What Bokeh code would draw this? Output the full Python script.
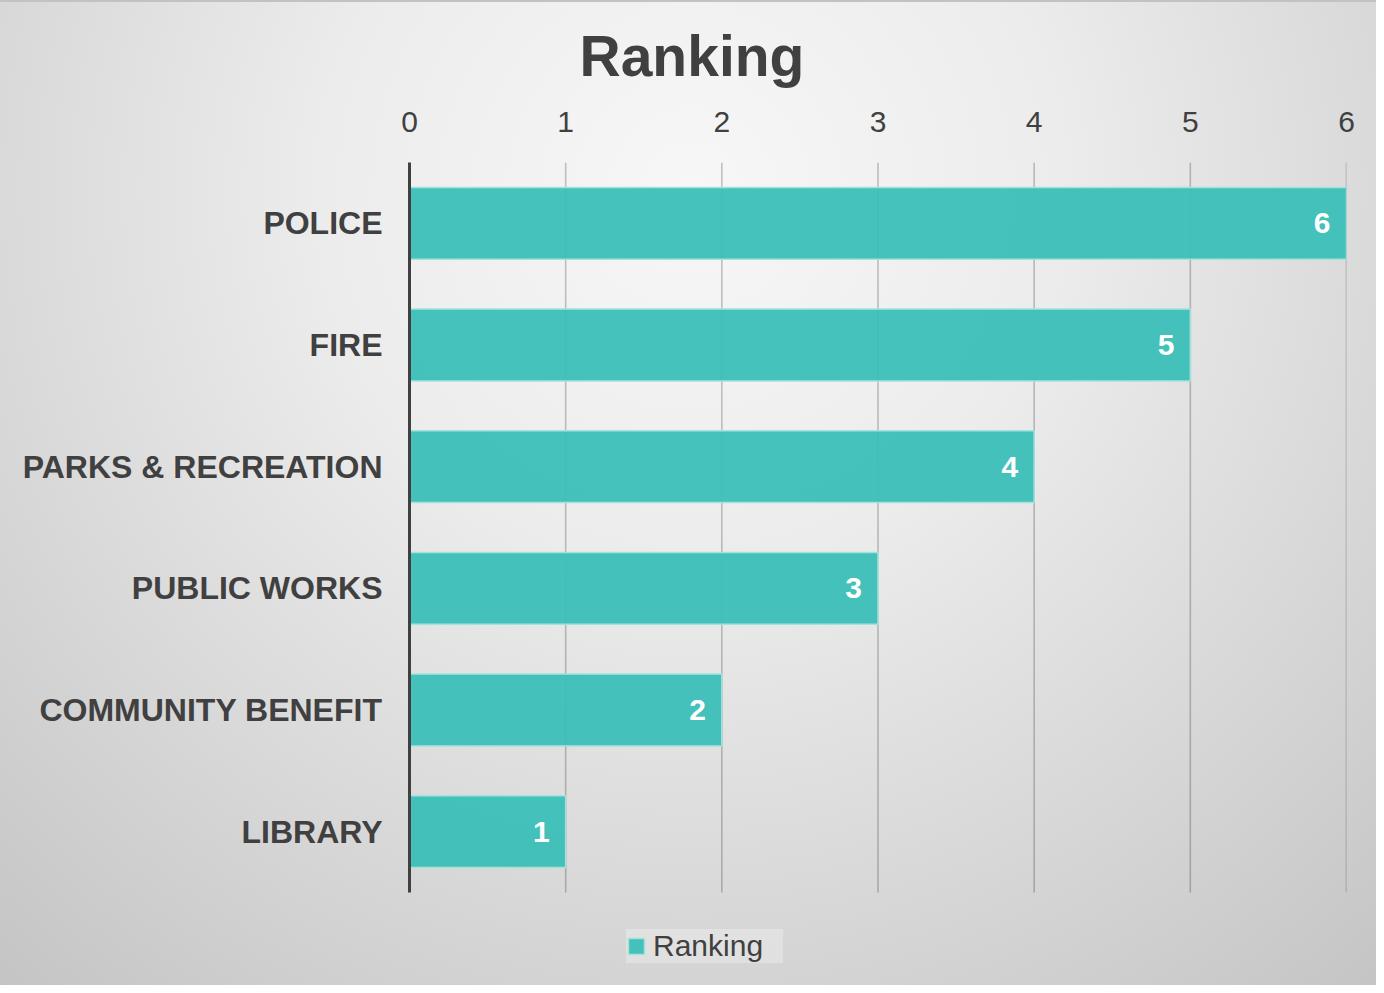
from bokeh.plotting import figure
from bokeh.models import (Range1d, FixedTicker, Legend, LegendItem,
                          ColumnDataSource, Title)
from bokeh.core.properties import value
from bokeh.embed import file_html
from bokeh.resources import INLINE

# ---- data ----
categories = ["POLICE", "FIRE", "PARKS & RECREATION", "PUBLIC WORKS",
              "COMMUNITY BENEFIT", "LIBRARY"]
rankings = [6, 5, 4, 3, 2, 1]
x_ticks = [0, 1, 2, 3, 4, 5, 6]
series_name = "Ranking"
chart_title = "Ranking"

FONT = "Liberation Sans"
DARK = "#404040"
BAR = "#3bbfb7"

n = len(categories)
# category slots: first category on top
ypos = [n - i - 0.5 for i in range(n)]
src = ColumnDataSource(dict(y=ypos, cat=categories, val=rankings,
                            lbl=[str(v) for v in rankings]))

# frame: 730 px for the n category slots, extra room below for the legend
slot_px = 730 / n
frame_h = 985 - 162
y_start = n - frame_h / slot_px

p = figure(width=1376, height=985, output_backend="svg", toolbar_location=None,
           y_range=Range1d(y_start, n),
           x_range=Range1d(0, max(x_ticks)),
           x_axis_location="above",
           min_border_left=409, min_border_right=30,
           min_border_top=162, min_border_bottom=0)

p.background_fill_color = None
p.border_fill_color = None
p.outline_line_color = None
p.styles = {
    "background": ("radial-gradient(circle 1060px at 692px 192px, "
                   "#f7f7f7 0%, #ececec 35%, #c4c4c4 100%)"),
    "box-shadow": "inset 0 2px 0 0 #c2c2c2",
}

# title
t = Title(text=chart_title, align="left", offset=170,
          text_font=FONT, text_font_size="57px", text_font_style="bold",
          text_color=DARK, standoff=42)
p.add_layout(t, "above")

# x axis (top)
xa = p.xaxis[0]
xa.ticker = FixedTicker(ticks=x_ticks)
xa.axis_line_color = None
xa.major_tick_line_color = None
xa.minor_tick_line_color = None
xa.major_tick_out = 0
xa.major_label_standoff = 31
xa.major_label_text_font = FONT
xa.major_label_text_font_size = "30px"
xa.major_label_text_color = DARK

# y axis (categories)
ya = p.yaxis[0]
ya.ticker = FixedTicker(ticks=ypos)
ya.major_label_overrides = {y: c for y, c in zip(ypos, categories)}
ya.bounds = (0, n)
ya.axis_line_color = DARK
ya.axis_line_width = 3
ya.major_tick_line_color = None
ya.minor_tick_line_color = None
ya.major_tick_out = 0
ya.major_label_standoff = 27
ya.major_label_text_font = FONT
ya.major_label_text_font_size = "32px"
ya.major_label_text_font_style = "bold"
ya.major_label_text_color = DARK

# vertical grid lines, limited to the category slots
p.xgrid.grid_line_color = None
p.ygrid.grid_line_color = None
grid_x = x_ticks[1:]
p.segment(x0=grid_x, x1=grid_x, y0=[0] * len(grid_x), y1=[n] * len(grid_x),
          line_color="#000000", line_alpha=0.22, line_width=1.6,
          level="underlay")

bars = p.hbar(y="y", right="val", left=0, height=0.59, source=src,
              fill_color=BAR, fill_alpha=0.95,
              line_color="#a6e2dd", line_width=1.5)

p.text(x="val", y="y", text="lbl", source=src, x_offset=-16,
       text_align="right", text_baseline="middle",
       text_font=value(FONT), text_font_size="30px", text_font_style="bold",
       text_color="#ffffff")

legend = Legend(items=[LegendItem(label=series_name, renderers=[bars])],
                location=(217, 22),
                padding=0, margin=0, spacing=0,
                glyph_width=20, glyph_height=20, label_standoff=7,
                label_width=130,
                label_text_font=FONT, label_text_font_size="30px",
                label_text_color=DARK,
                background_fill_color="#ffffff", background_fill_alpha=0.28,
                border_line_color=None)
p.add_layout(legend, "center")

open("out.html", "w").write(file_html(p, INLINE))
